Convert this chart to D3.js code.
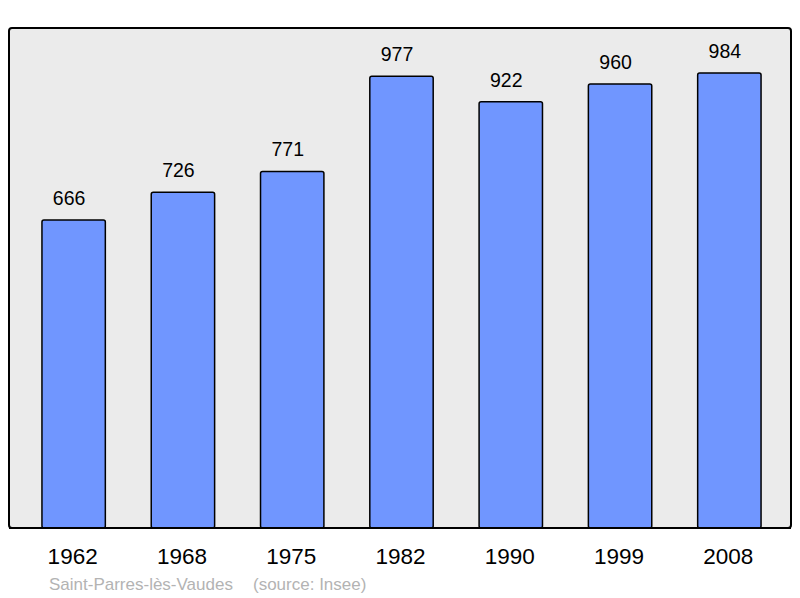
<!DOCTYPE html>
<html><head><meta charset="utf-8">
<script src="https://cdn.jsdelivr.net/npm/d3@7"></script>
<style>body{margin:0;background:#fff}svg{display:block}</style>
</head><body>
<script>
const years = ["1962","1968","1975","1982","1990","1999","2008"];
const population = [666,726,771,977,922,960,984];
const commune = "Saint-Parres-lès-Vaudes";
const source = "(source: Insee)";

const W = 800, H = 598;
const svg = d3.select("body").append("svg").attr("width", W).attr("height", H);
const font = "'Liberation Sans', Arial, sans-serif";

const panel = {x0: 9, y0: 28, x1: 791, y1: 528};
svg.append("rect").attr("x", panel.x0).attr("y", panel.y0)
  .attr("width", panel.x1 - panel.x0).attr("height", panel.y1 - panel.y0)
  .attr("rx", 3).attr("fill", "#ebebeb").attr("stroke", "#000").attr("stroke-width", 2);

const x = d3.scaleBand().domain(years).range([19, 784]).paddingInner(0.42).paddingOuter(0.21);
const y = d3.scaleLinear().domain([0, 1081.3]).range([panel.y1, panel.y0]);

const g = svg.append("g");
g.selectAll("rect.bar").data(years).join("rect").attr("class", "bar")
  .attr("x", d => x(d)).attr("width", x.bandwidth())
  .attr("y", (d, i) => y(population[i])).attr("height", (d, i) => panel.y1 - y(population[i]))
  .attr("rx", 2).attr("fill", "#7096ff").attr("stroke", "#000").attr("stroke-width", 1.5);

g.selectAll("text.val").data(years).join("text").attr("class", "val")
  .attr("x", d => x(d) + x.bandwidth() / 2 - 4.5).attr("y", (d, i) => y(population[i]) - 15)
  .attr("text-anchor", "middle").attr("font-family", font).attr("font-size", 19.5).attr("fill", "#000")
  .text((d, i) => population[i]);

// redraw bottom border over bars
svg.append("line").attr("x1", panel.x0).attr("x2", panel.x1).attr("y1", panel.y1).attr("y2", panel.y1)
  .attr("stroke", "#000").attr("stroke-width", 2);

const axis = d3.axisBottom(x).tickSize(0).tickPadding(0);
const ax = svg.append("g").attr("transform", `translate(0,${panel.y1})`).call(axis);
ax.select(".domain").remove();
ax.selectAll("text").attr("font-family", font).attr("font-size", 22.5).attr("fill", "#000")
  .attr("dy", null).attr("y", 36).attr("dx", -1);

svg.append("text").attr("x", 49).attr("y", 590).attr("font-family", font).attr("font-size", 17)
  .attr("fill", "#b3b3b3").text(commune);
svg.append("text").attr("x", 253).attr("y", 590).attr("font-family", font).attr("font-size", 17)
  .attr("fill", "#b3b3b3").text(source);
</script>
</body></html>
